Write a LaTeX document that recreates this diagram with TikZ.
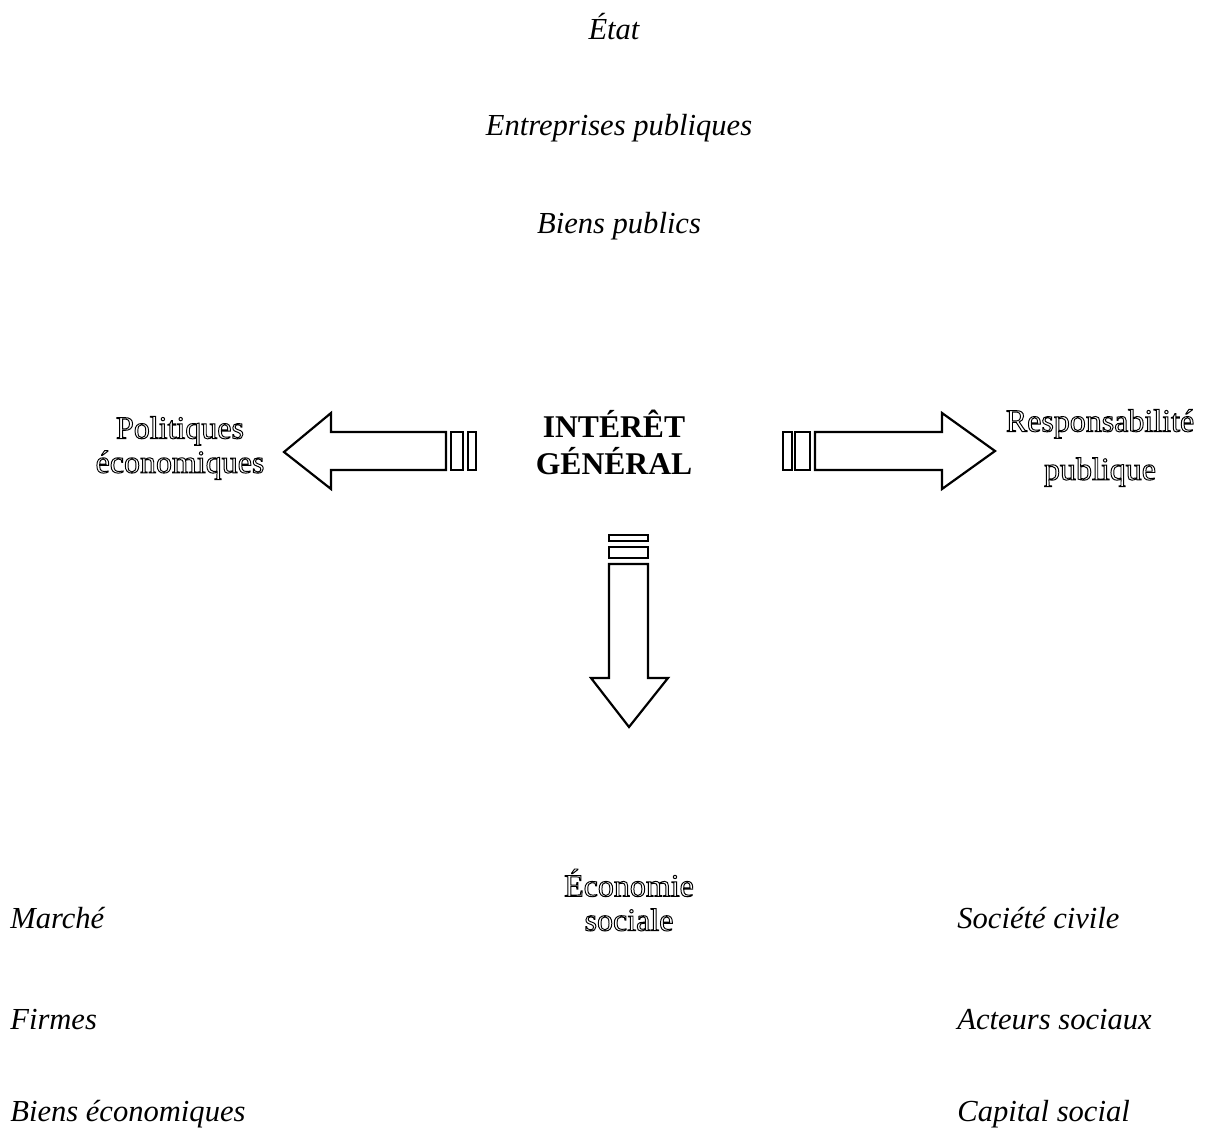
\documentclass[tikz,border=0pt]{standalone}
\usepackage{fontspec}
\setmainfont{Liberation Serif}
\usepackage{tikz}
\usetikzlibrary{positioning}
% outlined letters
\newcommand{\hollow}[1]{\special{pdf:literal direct 1 Tr 0.55 w}#1\special{pdf:literal direct 0 Tr}}

\begin{document}
\begin{tikzpicture}[x=0.02cm,y=-0.02cm,
  txt/.style={font=\fontsize{17.4}{19.5}\selectfont\itshape,inner sep=0pt},
  hol/.style={font=\fontsize{18.2}{19.5}\selectfont,align=center,inner sep=0pt},
  bigarrow/.style={draw=black,line width=1.25pt,fill=white,line join=miter}]
\useasboundingbox (0,0) rectangle (1206,1135);
% upper column
\node[txt] (Etat) at (614,27) {État};
\node[txt] (EP) at (619,128) {Entreprises publiques};
\node[txt] (BP) at (619,226) {Biens publics};
% centre
\node[font=\fontsize{18}{21}\selectfont\bfseries,align=center,inner sep=0pt] (IG) at (614,442) {INTÉRÊT\\GÉNÉRAL};
\node[hol] (PE) at (180,448) {\hollow{Politiques}\\\hollow{économiques}};
\node[hol] (RP) at (1100,448) {\hollow{Responsabilité}\\[8pt]\hollow{publique}};
\node[hol] (ES) at (629,900) {\hollow{Économie}\\\hollow{sociale}};
% arrows
\draw[bigarrow] (446,432) -- (331,432) -- (331,413) -- (284,452) -- (331,489) -- (331,470) -- (446,470) -- cycle;
\draw[bigarrow] (451,432) rectangle (463,470);
\draw[bigarrow] (468,432) rectangle (476,470);
\draw[bigarrow] (815,432) -- (942,432) -- (942,413) -- (995,451) -- (942,489) -- (942,470) -- (815,470) -- cycle;
\draw[bigarrow] (783,432) rectangle (792,470);
\draw[bigarrow] (795,432) rectangle (810,470);
\draw[bigarrow] (609,564) -- (609,678) -- (591,678) -- (629,727) -- (668,678) -- (648,678) -- (648,564) -- cycle;
\draw[bigarrow] (609,535) rectangle (648,541);
\draw[bigarrow] (609,547) rectangle (648,558);
% lower left
\node[txt,anchor=west] (M) at (10,918) {Marché};
\node[txt,anchor=west] (F) at (10,1020) {Firmes};
\node[txt,anchor=west] (BE) at (10,1114) {Biens économiques};
% lower right
\node[txt,anchor=west] (SC) at (957,918) {Société civile};
\node[txt,anchor=west] (AS) at (957,1020) {Acteurs sociaux};
\node[txt,anchor=west] (CS) at (957,1114) {Capital social};
\end{tikzpicture}
\end{document}
